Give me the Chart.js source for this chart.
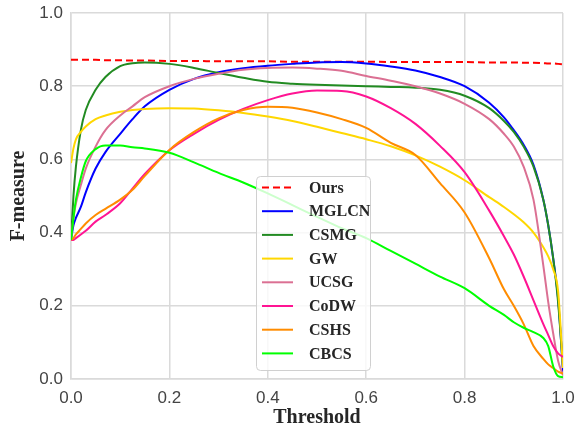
<!DOCTYPE html>
<html>
<head>
<meta charset="utf-8">
<script src="https://cdn.jsdelivr.net/npm/chart.js@4"></script>
<style>
  html, body { margin: 0; padding: 0; background: #ffffff; }
  #wrap { width: 577px; height: 435px; }
</style>
</head>
<body>
<div id="wrap"><canvas id="fmeasure" width="577" height="435"></canvas></div>
<script>
// thresholds shared by every curve
const thresholds = [0, 0.005, 0.01, 0.02, 0.03, 0.05, 0.07, 0.1, 0.125, 0.15, 0.2, 0.25, 0.3, 0.35, 0.4, 0.45, 0.5, 0.55, 0.6, 0.65, 0.7, 0.75, 0.8, 0.85, 0.88, 0.9, 0.92, 0.94, 0.96, 0.97, 0.98, 0.99, 1.0]

const methods = ['Ours', 'MGLCN', 'CSMG', 'GW', 'UCSG', 'CoDW', 'CSHS', 'CBCS']

const ours  = [0.872, 0.872, 0.872, 0.872, 0.872, 0.872, 0.871, 0.871, 0.870, 0.870, 0.869, 0.869, 0.868, 0.868, 0.868, 0.867, 0.867, 0.867, 0.867, 0.866, 0.866, 0.866, 0.866, 0.865, 0.865, 0.865, 0.864, 0.864, 0.863, 0.862, 0.862, 0.861, 0.860]
const mglcn = [0.38, 0.42, 0.44, 0.47, 0.51, 0.575, 0.62, 0.67, 0.71, 0.745, 0.79, 0.82, 0.838, 0.849, 0.856, 0.861, 0.865, 0.866, 0.862, 0.854, 0.843, 0.825, 0.80, 0.755, 0.715, 0.68, 0.64, 0.585, 0.49, 0.42, 0.33, 0.22, 0.02]
const csmg  = [0.38, 0.50, 0.58, 0.68, 0.735, 0.79, 0.825, 0.855, 0.863, 0.865, 0.861, 0.85, 0.836, 0.823, 0.812, 0.807, 0.804, 0.802, 0.800, 0.798, 0.796, 0.79, 0.774, 0.74, 0.705, 0.675, 0.635, 0.58, 0.49, 0.42, 0.33, 0.21, 0.03]
const gw    = [0.59, 0.63, 0.655, 0.675, 0.69, 0.71, 0.72, 0.73, 0.735, 0.738, 0.74, 0.739, 0.734, 0.727, 0.717, 0.705, 0.689, 0.672, 0.655, 0.636, 0.611, 0.58, 0.543, 0.497, 0.47, 0.45, 0.428, 0.40, 0.36, 0.335, 0.30, 0.24, 0.03]
const ucsg  = [0.38, 0.44, 0.48, 0.53, 0.575, 0.635, 0.68, 0.72, 0.745, 0.77, 0.80, 0.82, 0.834, 0.845, 0.85, 0.851, 0.848, 0.842, 0.828, 0.815, 0.80, 0.78, 0.752, 0.71, 0.67, 0.635, 0.58, 0.49, 0.31, 0.21, 0.125, 0.05, 0.01]
const codw  = [0.38, 0.38, 0.385, 0.395, 0.405, 0.43, 0.448, 0.48, 0.52, 0.56, 0.625, 0.67, 0.708, 0.738, 0.762, 0.78, 0.788, 0.787, 0.772, 0.74, 0.697, 0.637, 0.565, 0.46, 0.39, 0.34, 0.28, 0.215, 0.15, 0.12, 0.09, 0.07, 0.06]
const cshs  = [0.38, 0.385, 0.395, 0.41, 0.425, 0.448, 0.465, 0.49, 0.517, 0.555, 0.626, 0.675, 0.712, 0.735, 0.744, 0.741, 0.728, 0.71, 0.686, 0.645, 0.612, 0.535, 0.455, 0.33, 0.245, 0.20, 0.15, 0.09, 0.055, 0.04, 0.03, 0.02, 0.015]
const cbcs  = [0.38, 0.44, 0.49, 0.55, 0.595, 0.628, 0.638, 0.638, 0.633, 0.63, 0.618, 0.592, 0.563, 0.537, 0.507, 0.475, 0.443, 0.412, 0.385, 0.35, 0.315, 0.28, 0.248, 0.20, 0.175, 0.155, 0.14, 0.128, 0.112, 0.09, 0.035, 0.008, 0.005]

const tickValues = [0, 0.2, 0.4, 0.6, 0.8, 1.0]

const seriesValues = [ours, mglcn, csmg, gw, ucsg, codw, cshs, cbcs]
const seriesColors = ['#ff0000', '#0000ff', '#228b22', '#ffd700', '#db7093', '#ff1493', '#ff8c00', '#00ff00']

const fmeasure = document.getElementById("fmeasure")

function toPoints(values) {
    return values.map((v, i) => ({ x: thresholds[i], y: v }))
}

const datasets = methods.map((name, i) => ({
    label: name,
    data: toPoints(seriesValues[i]),
    borderColor: seriesColors[i],
    backgroundColor: seriesColors[i],
    borderWidth: 2,
    borderDash: i == 0 ? [7, 4] : [],
    pointRadius: 0,
    cubicInterpolationMode: 'monotone',
    fill: false,
    // later methods sit on top, like the original plot
    order: methods.length - 1 - i
}))

// legend box drawn inside the plot, semi transparent like matplotlib
const boxLegend = {
    id: 'boxLegend',
    afterDatasetsDraw(chart) {
        const ctx = chart.ctx
        const x0 = 256, y0 = 176, w = 114, h = 194
        ctx.save()
        ctx.beginPath()
        ctx.roundRect(x0 + 0.5, y0 + 0.5, w, h, 4)
        ctx.fillStyle = 'rgba(255,255,255,0.8)'
        ctx.fill()
        ctx.strokeStyle = '#d0d0d0'
        ctx.lineWidth = 1
        ctx.stroke()

        ctx.font = 'bold 16px "Liberation Serif"'
        ctx.textBaseline = 'middle'
        ctx.fillStyle = '#262626'
        methods.forEach((name, i) => {
            const y = 187.5 + i * 23.7
            ctx.beginPath()
            ctx.setLineDash(i == 0 ? [7, 4] : [])
            ctx.strokeStyle = seriesColors[i]
            ctx.lineWidth = 2
            ctx.moveTo(262, y)
            ctx.lineTo(293, y)
            ctx.stroke()
            ctx.setLineDash([])
            ctx.fillText(name, 309, y + 1)
        })
        ctx.restore()
    }
}

new Chart(fmeasure, {
    type: 'line',
    data: { datasets: datasets },
    options: {
        responsive: false,
        animation: false,
        layout: { padding: { top: 13, right: 14, left: 0, bottom: 0 } },
        plugins: {
            legend: { display: false },
            tooltip: { enabled: false }
        },
        scales: {
            x: {
                type: 'linear',
                min: 0,
                max: 1,
                afterBuildTicks: (scale) => { scale.ticks = tickValues.map(v => ({ value: v })) },
                afterFit: (scale) => {
                    scale.height = 56
                    scale.paddingLeft = 0
                    scale.paddingRight = 0
                },
                grid: { color: '#dadada', lineWidth: 1.5, drawTicks: false },
                border: { color: '#dadada', width: 1.5 },
                ticks: {
                    padding: 9,
                    color: '#444444',
                    font: { family: 'Liberation Sans', size: 17 },
                    callback: (v) => Number(v).toFixed(1)
                },
                title: {
                    display: true,
                    text: 'Threshold',
                    color: '#262626',
                    font: { family: 'Liberation Serif', size: 20, weight: 'bold' },
                    padding: { top: 0, bottom: 5 }
                }
            },
            y: {
                min: 0,
                max: 1,
                afterBuildTicks: (scale) => { scale.ticks = tickValues.map(v => ({ value: v })) },
                afterFit: (scale) => {
                    scale.width = 71
                    scale.paddingTop = 0
                    scale.paddingBottom = 0
                },
                grid: { color: '#dadada', lineWidth: 1.5, drawTicks: false },
                border: { color: '#dadada', width: 1.5 },
                ticks: {
                    padding: 8,
                    color: '#444444',
                    font: { family: 'Liberation Sans', size: 17 },
                    callback: (v) => Number(v).toFixed(1)
                },
                title: {
                    display: true,
                    text: 'F-measure',
                    color: '#262626',
                    font: { family: 'Liberation Serif', size: 20, weight: 'bold' },
                    padding: { top: 7, bottom: 0 }
                }
            }
        }
    },
    plugins: [boxLegend]
})
</script>
</body>
</html>
